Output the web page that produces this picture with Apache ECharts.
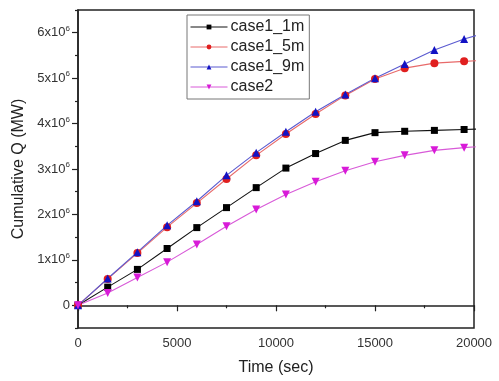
<!DOCTYPE html>
<html>
<head>
<meta charset="utf-8">
<script src="https://cdn.jsdelivr.net/npm/echarts@6/dist/echarts.min.js"></script>
<style>
  html, body { margin: 0; padding: 0; background: #fff; }
  #chart { width: 499px; height: 381px; }
</style>
</head>
<body>
<div id="chart"></div>
<script>
// time points (sec); last one sits just past the axis end so the lines run to the frame
const times = [0, 1500, 3000, 4500, 6000, 7500, 9000, 10500, 12000, 13500, 15000, 16500, 18000, 19500, 21000];
// cumulative Q, in units of 1e6 MW
const case1_1m = [0, 0.40, 0.79, 1.25, 1.71, 2.15, 2.59, 3.02, 3.34, 3.63, 3.80, 3.83, 3.85, 3.87, 3.89];
const case1_5m = [0, 0.58, 1.15, 1.72, 2.25, 2.78, 3.30, 3.77, 4.21, 4.62, 4.98, 5.22, 5.33, 5.37, 5.40];
const case1_9m = [0, 0.59, 1.17, 1.76, 2.29, 2.86, 3.36, 3.82, 4.26, 4.64, 5.00, 5.31, 5.62, 5.86, 6.05];
const case2 = [0, 0.27, 0.61, 0.95, 1.34, 1.74, 2.11, 2.44, 2.72, 2.96, 3.16, 3.30, 3.41, 3.47, 3.52];
const yMajor = [0, 1, 2, 3, 4, 5, 6];
const yMinor = [-0.5, 0.5, 1.5, 2.5, 3.5, 4.5, 5.5, 6.5];

const font = "Liberation Sans, Arial, sans-serif";
const pts = (vals) => times.map((t, i) => [t, vals[i] * 1e6]);

const chart = echarts.init(document.getElementById("chart"));

const line = (name, vals, symbol, color, lineColor, rotate) => ({
  name,
  type: "line",
  data: pts(vals),
  symbol,
  symbolSize: symbol === "rect" ? 7 : 8,
  symbolRotate: rotate || 0,
  showAllSymbol: true,
  clip: true,
  itemStyle: { color },
  lineStyle: { color: lineColor, width: 1.1 },
  emphasis: { disabled: true },
  xAxisIndex: 0,
  yAxisIndex: 0,
});

chart.setOption({
  animation: false,
  grid: {
    left: 78, right: 25, top: 10, bottom: 51,
    show: true, borderColor: "#222", borderWidth: 1.5,
    backgroundColor: "transparent",
  },
  legend: {
    orient: "vertical",
    left: 187, top: 15,
    padding: [4, 5, 4, 3],
    itemGap: 4,
    itemWidth: 37,
    itemHeight: 6,
    borderColor: "#777",
    borderWidth: 1,
    backgroundColor: "#fff",
    lineStyle: { width: 1 },
    textStyle: { fontFamily: font, fontSize: 16, color: "#222", lineHeight: 16, padding: [0, 0, 0, -2] },
    data: ["case1_1m", "case1_5m", "case1_9m", "case2"],
  },
  xAxis: {
    type: "value",
    min: 0, max: 20000, interval: 5000,
    name: "Time (sec)",
    nameLocation: "middle",
    nameGap: 32,
    nameTextStyle: { fontFamily: font, fontSize: 16, color: "#222" },
    axisLine: { show: true, lineStyle: { color: "#222", width: 1.5 } },
    axisTick: { show: true, inside: false, length: 6, lineStyle: { color: "#222", width: 1.2 } },
    minorTick: { show: true, splitNumber: 2, length: 3, lineStyle: { color: "#222", width: 1.2 } },
    axisLabel: { fontFamily: font, fontSize: 13, color: "#333", margin: 9, formatter: (v) => String(v) },
    splitLine: { show: false },
  },
  yAxis: [
    {
      type: "value",
      min: -0.5e6, max: 6.5e6,
      name: "Cumulative Q (MW)",
      nameLocation: "middle",
      nameGap: 48,
      nameRotate: 90,
      nameTextStyle: { fontFamily: font, fontSize: 16, color: "#222" },
      axisLine: { show: true, lineStyle: { color: "#222", width: 1.5 } },
      axisTick: {
        show: true, inside: false, length: 6,
        customValues: yMajor.map((v) => v * 1e6),
        lineStyle: { color: "#222", width: 1.2 },
      },
      axisLabel: {
        customValues: yMajor.map((v) => v * 1e6),
        margin: 8,
        formatter: (v) => {
          const n = Math.round(v / 1e6);
          return n === 0 ? "{a|0}" : "{a|" + n + "x10}{s|6}";
        },
        rich: {
          a: { fontFamily: font, fontSize: 13, color: "#333", lineHeight: 16 },
          s: { fontFamily: font, fontSize: 8, color: "#333", lineHeight: 9, verticalAlign: "top" },
        },
      },
      splitLine: { show: false },
    },
    {
      type: "value",
      position: "left",
      min: -0.5e6, max: 6.5e6,
      axisLine: { show: false },
      axisTick: {
        show: true, inside: false, length: 3,
        customValues: yMinor.map((v) => v * 1e6),
        lineStyle: { color: "#222", width: 1.2 },
      },
      axisLabel: { show: false },
      splitLine: { show: false },
    },
  ],
  series: [
    line("case1_1m", case1_1m, "rect", "#000", "#111"),
    line("case1_5m", case1_5m, "circle", "#e01f1f", "#e86a6a"),
    line("case1_9m", case1_9m, "triangle", "#1212c4", "#5a5ad0"),
    line("case2", case2, "triangle", "#d81ad8", "#d85ad8", 180),
  ],
});
</script>
</body>
</html>
